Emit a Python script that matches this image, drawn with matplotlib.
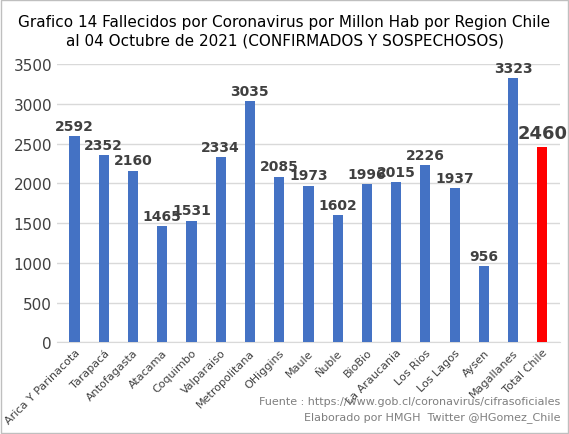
import matplotlib
matplotlib.use("Agg")
import matplotlib.pyplot as plt
plt.rcParams['font.family'] = ['Liberation Sans Narrow', 'DejaVu Sans']

regions = ["Arica Y Parinacota","Tarapacá","Antofagasta","Atacama","Coquimbo","Valparaiso",
           "Metropolitana","OHiggins","Maule","Ñuble","BioBio","La Araucania","Los Rios",
           "Los Lagos","Aysen","Magallanes","Total Chile"]
values = [2592,2352,2160,1465,1531,2334,3035,2085,1973,1602,1996,2015,2226,1937,956,3323,2460]

fig = plt.figure(figsize=(5.69,4.35), dpi=100)
fig.patches.append(plt.Rectangle((0.002,0.002),0.996,0.996,transform=fig.transFigure,
                                 fill=False,edgecolor="#bfbfbf",lw=1))
ax = fig.add_axes([0.1,0.211,0.884,0.639])
colors = ["#4472C4"]*(len(values)-1) + ["#FF0000"]
x = range(len(values))
ax.bar(x, values, width=0.35, color=colors, zorder=3)
ax.set_ylim(0,3500)
ax.set_xlim(-0.6,len(values)-0.4)
ax.set_yticks(range(0,3501,500))
ax.tick_params(axis='y', labelsize=11, length=0, colors="#404040")
ax.tick_params(axis='x', length=0)
ax.grid(axis='y', color="#d9d9d9", lw=1, zorder=0)
for s in ["top","right","left"]:
    ax.spines[s].set_visible(False)
ax.spines["bottom"].set_color("#d9d9d9")
ax.set_xticks(list(x))
ax.set_xticklabels(regions, rotation=45, ha="right", rotation_mode="anchor", fontsize=8, color="#404040")
for i,v in enumerate(values):
    if i == len(values)-1:
        ax.text(i, v+60, str(v), ha="center", va="bottom", fontsize=13, fontweight="bold", color="#404040", clip_on=False)
    else:
        ax.text(i, v+40, str(v), ha="center", va="bottom", fontsize=10, fontweight="bold", color="#404040", clip_on=False)
fig.text(0.5, 0.965, "Grafico 14 Fallecidos por Coronavirus por Millon Hab por Region Chile\nal 04 Octubre de 2021 (CONFIRMADOS Y SOSPECHOSOS)",
         ha="center", va="top", fontsize=11, color="#000000", linespacing=1.3)
fig.text(0.985, 0.07, "Fuente : https://www.gob.cl/coronavirus/cifrasoficiales", ha="right", fontsize=8, color="#7f7f7f")
fig.text(0.985, 0.035, "Elaborado por HMGH  Twitter @HGomez_Chile", ha="right", fontsize=8, color="#7f7f7f")
fig.savefig("out.png", dpi=100)
